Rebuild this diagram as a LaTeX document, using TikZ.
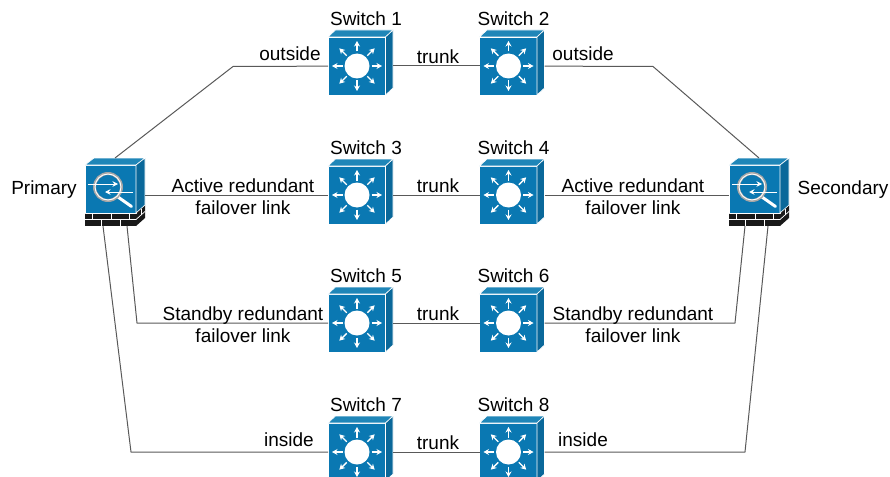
\documentclass[tikz,border=0pt]{standalone}
\usepackage{fontspec}
\setmainfont{Liberation Sans}
\usetikzlibrary{arrows.meta, positioning, calc}

\definecolor{ciscoblue}{HTML}{0A78B2}
\definecolor{ciscotop}{HTML}{1F86B8}
\definecolor{ciscoside}{HTML}{0A689A}

\begin{document}
\begin{tikzpicture}[x=1pt, y=-1pt, >=Stealth, line join=round]
	\tikzset{
		link/.style={draw=black!65, line width=1pt},
		lbl/.style={font=\fontsize{19}{22}\selectfont, inner sep=0pt, align=center},
		devbox/.style={inner sep=0pt, outer sep=0pt},
		face/.style={draw=white, line width=0.6pt},
		ray/.style={white, line width=1.4pt, -{Stealth[length=5.5pt, width=6pt]}},
		flow/.style={white, line width=1pt, -{Stealth[length=5.5pt, width=5.5pt]}},
		brick/.style={white, line width=0.7pt}
	}
	
	% switch icon: name, centre x, centre y, label, label offset
	\newcommand{\switchicon}[5]{
		\node[devbox, minimum width=65pt, minimum height=58pt] (#1) at (#2,#3) {};
		\begin{scope}[shift={(#1.center)}]
			\fill[face, fill=ciscoblue] (-32.5,-29) rectangle (25,29);
			\fill[face, fill=ciscotop] (-32.5,-29) -- (-25,-36) -- (32.5,-36) -- (25,-29) -- cycle;
			\fill[face, fill=ciscoside] (25,-29) -- (32.5,-36) -- (32.5,22) -- (25,29) -- cycle;
			\fill[white] (-3.5,0) circle (12.5);
			\foreach \a in {0,45,...,315}
				\draw[ray] ($(-3.5,0)+(\a:14.5)$) -- ($(-3.5,0)+(\a:25)$);
		\end{scope}
		\node[lbl] (#1label) at ($(#1.center)+(#5,-47)$) {#4};
	}
	
	% firewall icon: name, centre x, centre y
	\newcommand{\firewallicon}[3]{
		\node[devbox, minimum width=60pt, minimum height=68pt] (#1) at (#2,#3) {};
		\begin{scope}[shift={(#1.center)}]
			\fill[black!90] (-30,21) rectangle (21,34);
			\fill[black!90] (21,21) -- (30,13) -- (30,26) -- (21,34) -- cycle;
			\fill[face, fill=ciscoblue] (-30,-27) rectangle (21,21);
			\fill[face, fill=ciscotop] (-30,-27) -- (-21,-34) -- (30,-34) -- (21,-27) -- cycle;
			\fill[face, fill=ciscoside] (21,-27) -- (30,-34) -- (30,13) -- (21,21) -- cycle;
			\draw[brick] (-30,27.5) -- (21,27.5) -- (30,19.5);
			\foreach \bx in {-23,-4,14}
				\draw[brick] (\bx,21) -- (\bx,27.5);
			\foreach \bx in {-14,5}
				\draw[brick] (\bx,27.5) -- (\bx,34);
			\draw[brick] (26,17) -- (26,23);
			% magnifier
			\draw[white, line width=3pt, line cap=round] (3,5) -- (16.5,14.5);
			\draw[black!35, line width=3pt] (-7,-5) circle (13.5);
			\draw[white, line width=0.9pt] (-7,-5) circle (13);
			\draw[flow] (-27,-8) -- (3,-8);
			\draw[flow] (18,0) -- (-10,0);
		\end{scope}
	}
	
	\clip (0,0) rectangle (890,476);
	
	% connectors go first, icons sit on top
	\coordinate (bendA) at (233,66.5);
	\coordinate (bendB) at (653,66.5);
	\coordinate (bendC) at (137,323);
	\coordinate (bendD) at (735,323);
	\coordinate (bendE) at (131,452);
	\coordinate (bendF) at (745,452);
	
	\switchicon{sw1}{360.5}{66}{Switch 1}{5.5}
	\switchicon{sw2}{512}{66}{Switch 2}{1.5}
	\switchicon{sw3}{360.5}{195}{Switch 3}{5.5}
	\switchicon{sw4}{512}{195}{Switch 4}{1.5}
	\switchicon{sw5}{360.5}{323}{Switch 5}{5.5}
	\switchicon{sw6}{512}{323}{Switch 6}{1.5}
	\switchicon{sw7}{360.5}{452}{Switch 7}{5.5}
	\switchicon{sw8}{512}{452}{Switch 8}{1.5}
	\firewallicon{primary}{115}{192}
	\firewallicon{secondary}{759}{192}
	
	\foreach \l/\r in {sw1/sw2, sw3/sw4, sw5/sw6, sw7/sw8}
		\draw[link] (\l) -- (\r);
	
	\draw[link] (primary.north) -- (bendA) -- (sw1);
	\draw[link] (sw2) -- (bendB) -- (secondary.north);
	\draw[link] (sw3.west) -- (sw3.west -| primary.east);
	\draw[link] (sw4.east) -- (sw4.east -| secondary.west);
	\draw[link] ([xshift=12pt]primary.south) -- (bendC) -- (sw5);
	\draw[link] (sw6) -- (bendD) -- ([xshift=-14pt]secondary.south);
	\draw[link] ([xshift=-12pt]primary.south) -- (bendE) -- (sw7);
	\draw[link] (sw8) -- (bendF) -- ([xshift=9pt]secondary.south);
	
	\foreach \lx/\ly/\txt [count=\i] in {
		438/57/trunk, 438/186/trunk, 438/314/trunk, 438/443/trunk,
		290/54/outside, 583/54/outside, 289/440/inside, 583/440/inside,
		44/190/Primary, 843/190/Secondary}
		\node[lbl] (text\i) at (\lx,\ly) {\txt};
	
	\node[lbl] (activeL) at (243,197) {Active redundant\\[0pt]failover link};
	\node[lbl] (activeR) at (633,197) {Active redundant\\[0pt]failover link};
	\node[lbl] (standbyL) at (243,325) {Standby redundant\\[0pt]failover link};
	\node[lbl] (standbyR) at (633,325) {Standby redundant\\[0pt]failover link};
	
\end{tikzpicture}
\end{document}
